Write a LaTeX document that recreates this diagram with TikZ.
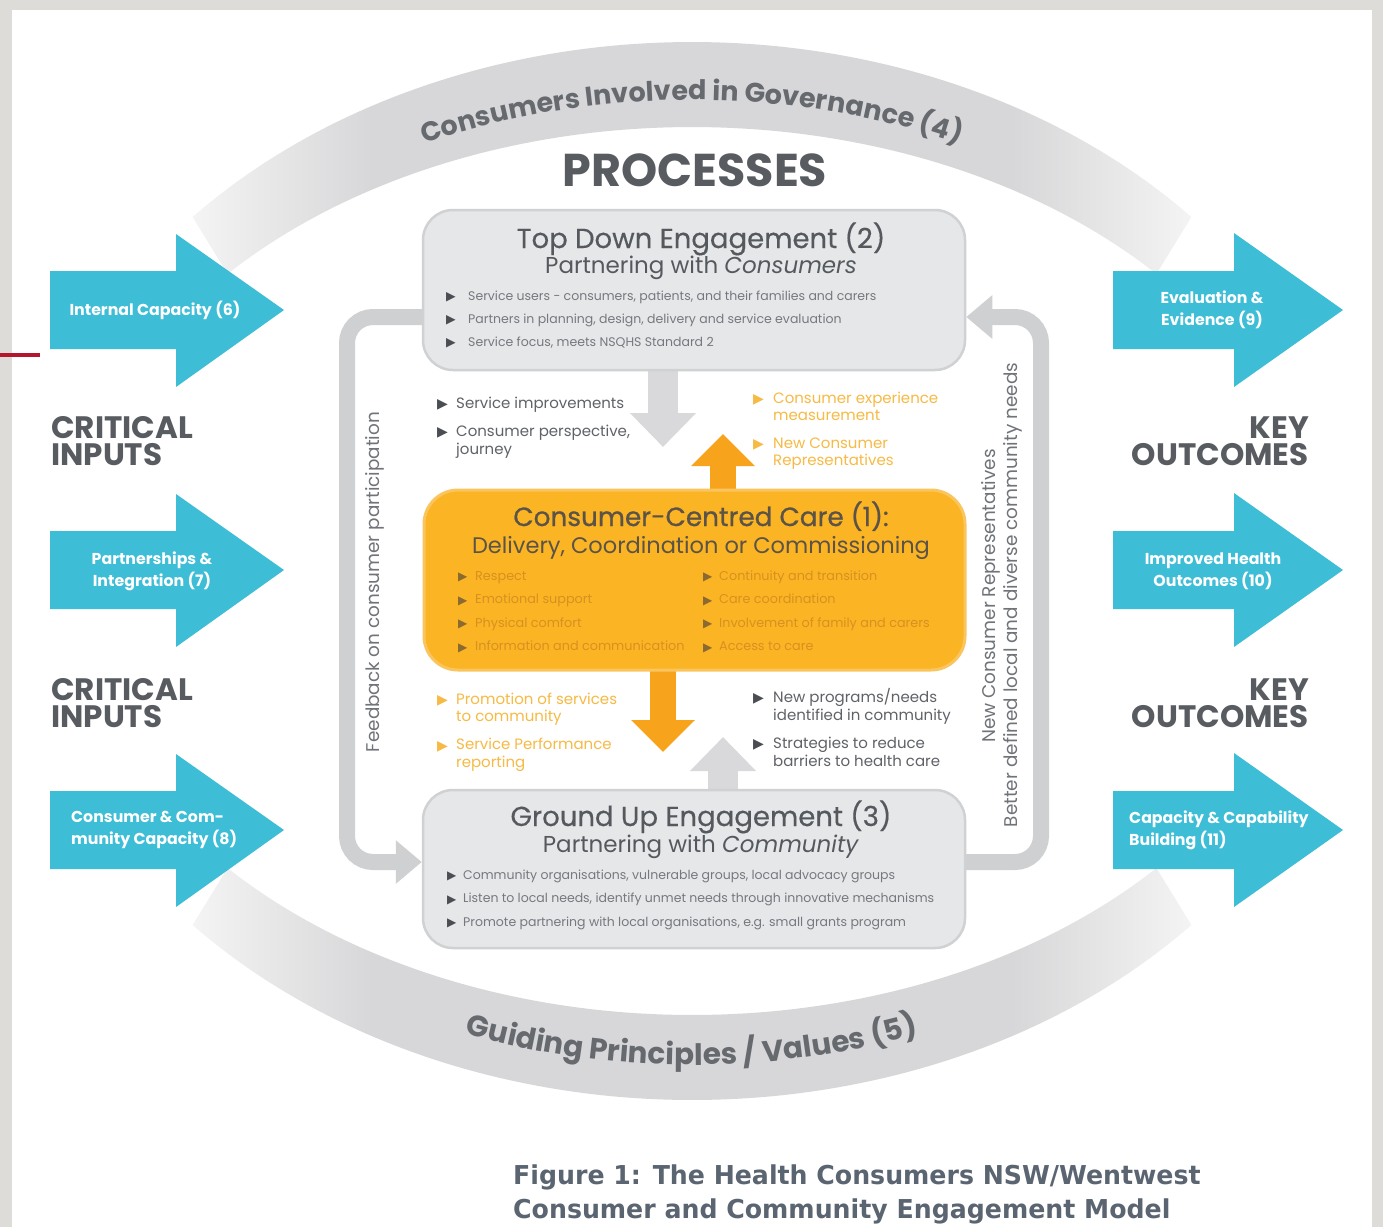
\documentclass[tikz,border=0pt]{standalone}
\usepackage{fontspec}
\setmainfont{Poppins}
\newfontfamily\dejavu{DejaVu Sans}
\newfontfamily\capfont[FakeStretch=0.97]{DejaVu Sans}
\newfontfamily\popmed[FakeBold=0.8]{Poppins}
\newfontfamily\popsemi[FakeBold=0.4]{Poppins}
\usetikzlibrary{arrows.meta,decorations.text,calc}

\definecolor{framegray}{HTML}{DEDCD9}
\definecolor{redline}{HTML}{B3162D}
\definecolor{bandgray}{HTML}{D7D7D9}
\definecolor{bandend}{HTML}{F4F4F4}
\definecolor{headc}{HTML}{585C61}
\definecolor{titlec}{HTML}{55595E}
\definecolor{bultext}{HTML}{75787D}
\definecolor{bulgray}{HTML}{4A4D52}
\definecolor{midtext}{HTML}{5F6267}
\definecolor{orangetext}{HTML}{F6BA45}
\definecolor{caretitle}{HTML}{5B5347}
\definecolor{caretext}{HTML}{D8911F}
\definecolor{carebul}{HTML}{8A6A30}
\definecolor{sidetext}{HTML}{707378}
\definecolor{arctext}{HTML}{666A6F}
\definecolor{capc}{HTML}{5A6571}
\definecolor{cyanc}{HTML}{3DBDD6}
\definecolor{carefill}{HTML}{FBB424}
\definecolor{careline}{HTML}{FAC55E}
\definecolor{orangearrow}{HTML}{F7A41C}
\definecolor{blockgray}{HTML}{D9D9DB}
\definecolor{loopgray}{HTML}{CFD0D2}
\definecolor{boxfill}{HTML}{E6E7E9}
\definecolor{boxline}{HTML}{D0D1D3}

\pgfdeclarehorizontalshading{bandshade}{100bp}{color(0bp)=(bandend); color(25bp)=(bandend); color(34bp)=(bandgray); color(66bp)=(bandgray); color(75bp)=(bandend); color(100bp)=(bandend)}

\pgfdeclarelayer{back}
\pgfdeclarelayer{mid}
\pgfsetlayers{back,mid,main}

\newcommand\Llines[2]{\vtop{\baselineskip=#1\lineskiplimit=-\maxdimen\lineskip=0pt\halign{##\hfil\cr#2\crcr}}}
\newcommand\Rlines[2]{\vtop{\baselineskip=#1\lineskiplimit=-\maxdimen\lineskip=0pt\halign{\hfil##\cr#2\crcr}}}
\newcommand\Clines[2]{\vtop{\baselineskip=#1\lineskiplimit=-\maxdimen\lineskip=0pt\halign{\hfil##\hfil\cr#2\crcr}}}
\newcommand\blist[3]{\vtop{\baselineskip=#1\lineskiplimit=-\maxdimen\lineskip=0pt\halign{\hbox to #2{##\hfil}&##\hfil\cr#3\crcr}}}
\newcommand\Bul[2]{{\color{#1}\dejavu\fontsize{#2}{#2}\selectfont\raisebox{-0.06em}{▶}}}

\begin{document}
\begin{tikzpicture}[x=1pt,y=-1pt,
  graybox/.style={draw=boxline, line width=2.5, fill=boxfill, rounded corners=30, inner sep=0},
  carebox/.style={draw=careline, line width=3, fill=carefill, rounded corners=34, inner sep=0},
  arrowlabel/.style={text=white, font=\bfseries\fontsize{15.8}{22}\selectfont, inner sep=0},
  fbloop/.style={draw=loopgray, line width=16, rounded corners=26},
  gblock/.style={draw=blockgray, line width=30, -{Triangle[width=64pt,length=34pt]}},
  oblock/.style={draw=orangearrow, line width=26, -{Triangle[width=62pt,length=32pt]}},
  heading/.style={text=headc, font=\bfseries\fontsize{31}{27}\selectfont, inner sep=0},
  titlefont/.style={text=titlec, font=\popsemi\fontsize{27.5}{27.5}\selectfont, inner sep=0},
  subfont/.style={text=titlec, font=\fontsize{23}{23}\selectfont, inner sep=0},
  listnode/.style={anchor=base west, inner sep=0},
  sidelabel/.style={rotate=90, text=sidetext, font=\fontsize{18.4}{18.4}\selectfont, inner sep=0}
]
\useasboundingbox (0,0) rectangle (1383,1227);

\begin{pgfonlayer}{back}
  \fill[framegray] (0,0) rectangle (1383,1227);
  \fill[white] (12,10) rectangle (1372,1227);
  \fill[redline] (0,353) rectangle (40,357);
  % top band
  \shade[shading=bandshade] plot[domain=222:318,samples=90] ({692+672*cos(\x)},{571+529*sin(\x)})
     -- plot[domain=318:222,samples=90] ({692+625*cos(\x)},{571+444*sin(\x)}) -- cycle;
  % bottom band
  \shade[shading=bandshade] plot[domain=42:138,samples=90] ({692+672*cos(\x)},{571+529*sin(\x)})
     -- plot[domain=138:42,samples=90] ({692+625*cos(\x)},{571+444*sin(\x)}) -- cycle;
  \path[decorate, decoration={text along path, text align=center, text color=arctext,
      text={|\bfseries\fontsize{27}{27}\selectfont|Consumers Involved in Governance (4)}}]
      plot[domain=222:318,samples=120,smooth] ({692+635*cos(\x)},{571+471*sin(\x)});
  \path[decorate, decoration={text along path, text align=center, text color=arctext,
      text={|\bfseries\fontsize{29.5}{29.5}\selectfont|Guiding Principles / Values (5)}}]
      plot[domain=138:42,samples=120,smooth] ({692+650*cos(\x)},{571+494*sin(\x)});
\end{pgfonlayer}

% heading
\node[anchor=base, text=headc, font=\bfseries\fontsize{46}{46}\selectfont, inner sep=0] (proc) at (695,186) {PROCESSES};

% boxes
\node[graybox, minimum width=542, minimum height=160] (top) at (694,290) {};
\node[carebox, minimum width=541, minimum height=180] (care) at (694.5,580) {};
\node[graybox, minimum width=542, minimum height=158] (ground) at (694,869) {};

\coordinate (dA) at (663,447);
\coordinate (uA) at (723,434);
\coordinate (dB) at (663,752);
\coordinate (uB) at (723,737);

\begin{pgfonlayer}{mid}
  \draw[fbloop, -{Triangle[width=42pt,length=26pt]}] ($(top.center)+(0,27)$) -- (347,317) -- (347,862) -- ($(ground.west)+(0,-7)$);
  \draw[fbloop, -{Triangle[width=42pt,length=26pt]}] ($(ground.center)+(0,-7)$) -- (1041,862) -- (1041,317) -- ($(top.east)+(0,27)$);
  \draw[gblock] (top.center -| dA) -- (dA);
  \draw[oblock] (care.center -| uA) -- (uA);
  \draw[oblock] (care.center -| dB) -- (dB);
  \draw[gblock] (ground.center -| uB) -- (uB);
\end{pgfonlayer}

% top box text
\node[anchor=base, titlefont] (toptitle) at (701,248) {Top Down Engagement (2)};
\node[anchor=base, subfont] (topsub) at (701,273) {Partnering with \textit{Consumers}};
\node[listnode, text=bultext, font=\fontsize{12.5}{12.5}\selectfont] (toplist) at (446,300)
  {\blist{23pt}{22pt}{\Bul{bulgray}{12.5}&Service users - consumers, patients, and their families and carers\cr
   \Bul{bulgray}{12.5}&Partners in planning, design, delivery and service evaluation\cr
   \Bul{bulgray}{12.5}&Service focus, meets NSQHS Standard 2}};

% middle upper lists
\node[listnode, text=midtext, font=\fontsize{15}{15}\selectfont] (midleft) at (437,408)
  {\blist{18pt}{19pt}{\Bul{bulgray}{14}&Service improvements\cr\noalign{\vskip10pt}
   \Bul{bulgray}{14}&Consumer perspective,\cr &journey}};
\node[listnode, text=orangetext, font=\fontsize{15}{15}\selectfont] (midright) at (753,403)
  {\blist{17pt}{20pt}{\Bul{orangetext}{14}&Consumer experience\cr &measurement\cr\noalign{\vskip11pt}
   \Bul{orangetext}{14}&New Consumer\cr &Representatives}};

% care box text
\node[anchor=base, text=caretitle, font=\popmed\fontsize{26.3}{26.3}\selectfont, inner sep=0] (caretitle) at (701,526) {Consumer-Centred Care (1):};
\node[anchor=base, text=caretitle, font=\fontsize{22.5}{22.5}\selectfont, inner sep=0] (caresub) at (701,553) {Delivery, Coordination or Commissioning};
\node[listnode, text=caretext, font=\fontsize{12.8}{12.8}\selectfont] (careleft) at (458,580)
  {\blist{23.5pt}{17pt}{\Bul{carebul}{12}&Respect\cr \Bul{carebul}{12}&Emotional support\cr
   \Bul{carebul}{12}&Physical comfort\cr \Bul{carebul}{12}&Information and communication}};
\node[listnode, text=caretext, font=\fontsize{12.8}{12.8}\selectfont] (careright) at (703,580)
  {\blist{23.5pt}{16pt}{\Bul{carebul}{12}&Continuity and transition\cr \Bul{carebul}{12}&Care coordination\cr
   \Bul{carebul}{12}&Involvement of family and carers\cr \Bul{carebul}{12}&Access to care}};

% middle lower lists
\node[listnode, text=orangetext, font=\fontsize{15}{15}\selectfont] (lowleft) at (437,704)
  {\blist{17.5pt}{19pt}{\Bul{orangetext}{14}&Promotion of services\cr &to community\cr\noalign{\vskip10.5pt}
   \Bul{orangetext}{14}&Service Performance\cr &reporting}};
\node[listnode, text=midtext, font=\fontsize{15}{15}\selectfont] (lowright) at (753,702)
  {\blist{18pt}{20pt}{\Bul{bulgray}{14}&New programs/needs\cr &identified in community\cr\noalign{\vskip10pt}
   \Bul{bulgray}{14}&Strategies to reduce\cr &barriers to health care}};

% ground box text
\node[anchor=base, titlefont] (gtitle) at (701,826) {Ground Up Engagement (3)};
\node[anchor=base, subfont] (gsub) at (701,852) {Partnering with \textit{Community}};
\node[listnode, text=bultext, font=\fontsize{12.5}{12.5}\selectfont] (glist) at (447,879)
  {\blist{23.5pt}{16pt}{\Bul{bulgray}{12}&Community organisations, vulnerable groups, local advocacy groups\cr
   \Bul{bulgray}{12}&Listen to local needs, identify unmet needs through innovative mechanisms\cr
   \Bul{bulgray}{12}&Promote partnering with local organisations, e.g. small grants program}};

% side labels
\node[sidelabel] (fb) at (375,582) {Feedback on consumer participation};
\node[sidelabel] (ncr) at (991,596) {New Consumer Representatives};
\node[sidelabel] (bdl) at (1013,595) {Better defined local and diverse community needs};

% cyan arrows
\foreach \c in {310,570,830}{
  \fill[cyanc] (50,\c-39) -- (176,\c-39) -- (176,\c-76) -- (284,\c) -- (176,\c+77) -- (176,\c+39) -- (50,\c+39) -- cycle;
  \fill[cyanc] (1113,\c-39) -- (1234,\c-39) -- (1234,\c-77) -- (1343,\c) -- (1234,\c+77) -- (1234,\c+39) -- (1113,\c+39) -- cycle;
}
\node[arrowlabel] (in6) at (155,310) {Internal Capacity (6)};
\node[arrowlabel] (in7) at (152,571) {\Clines{22pt}{Partnerships \&\cr Integration (7)}};
\node[arrowlabel, anchor=west] (in8) at (71,830) {\Llines{22pt}{Consumer \& Com-\cr munity Capacity (8)}};
\node[arrowlabel] (out9) at (1212,310) {\Clines{22pt}{Evaluation \&\cr Evidence (9)}};
\node[arrowlabel] (out10) at (1213,571) {\Clines{22pt}{Improved Health\cr Outcomes (10)}};
\node[arrowlabel, anchor=west] (out11) at (1129,830) {\Llines{22pt}{Capacity \& Capability\cr Building (11)}};

% side headings
\node[heading, anchor=base west] (ci1) at (51,438) {\Llines{27pt}{CRITICAL\cr INPUTS}};
\node[heading, anchor=base west] (ci2) at (51,700) {\Llines{27pt}{CRITICAL\cr INPUTS}};
\node[heading, anchor=base east] (ko1) at (1309,438) {\Rlines{27pt}{KEY\cr OUTCOMES}};
\node[heading, anchor=base east] (ko2) at (1309,700) {\Rlines{27pt}{KEY\cr OUTCOMES}};

% caption
\node[anchor=base west, text=capc, font=\capfont\bfseries\fontsize{26}{34}\selectfont, inner sep=0] (cap) at (513,1184)
  {\Llines{34pt}{Figure 1: The Health Consumers NSW/Wentwest\cr Consumer and Community Engagement Model}};
\end{tikzpicture}
\end{document}
